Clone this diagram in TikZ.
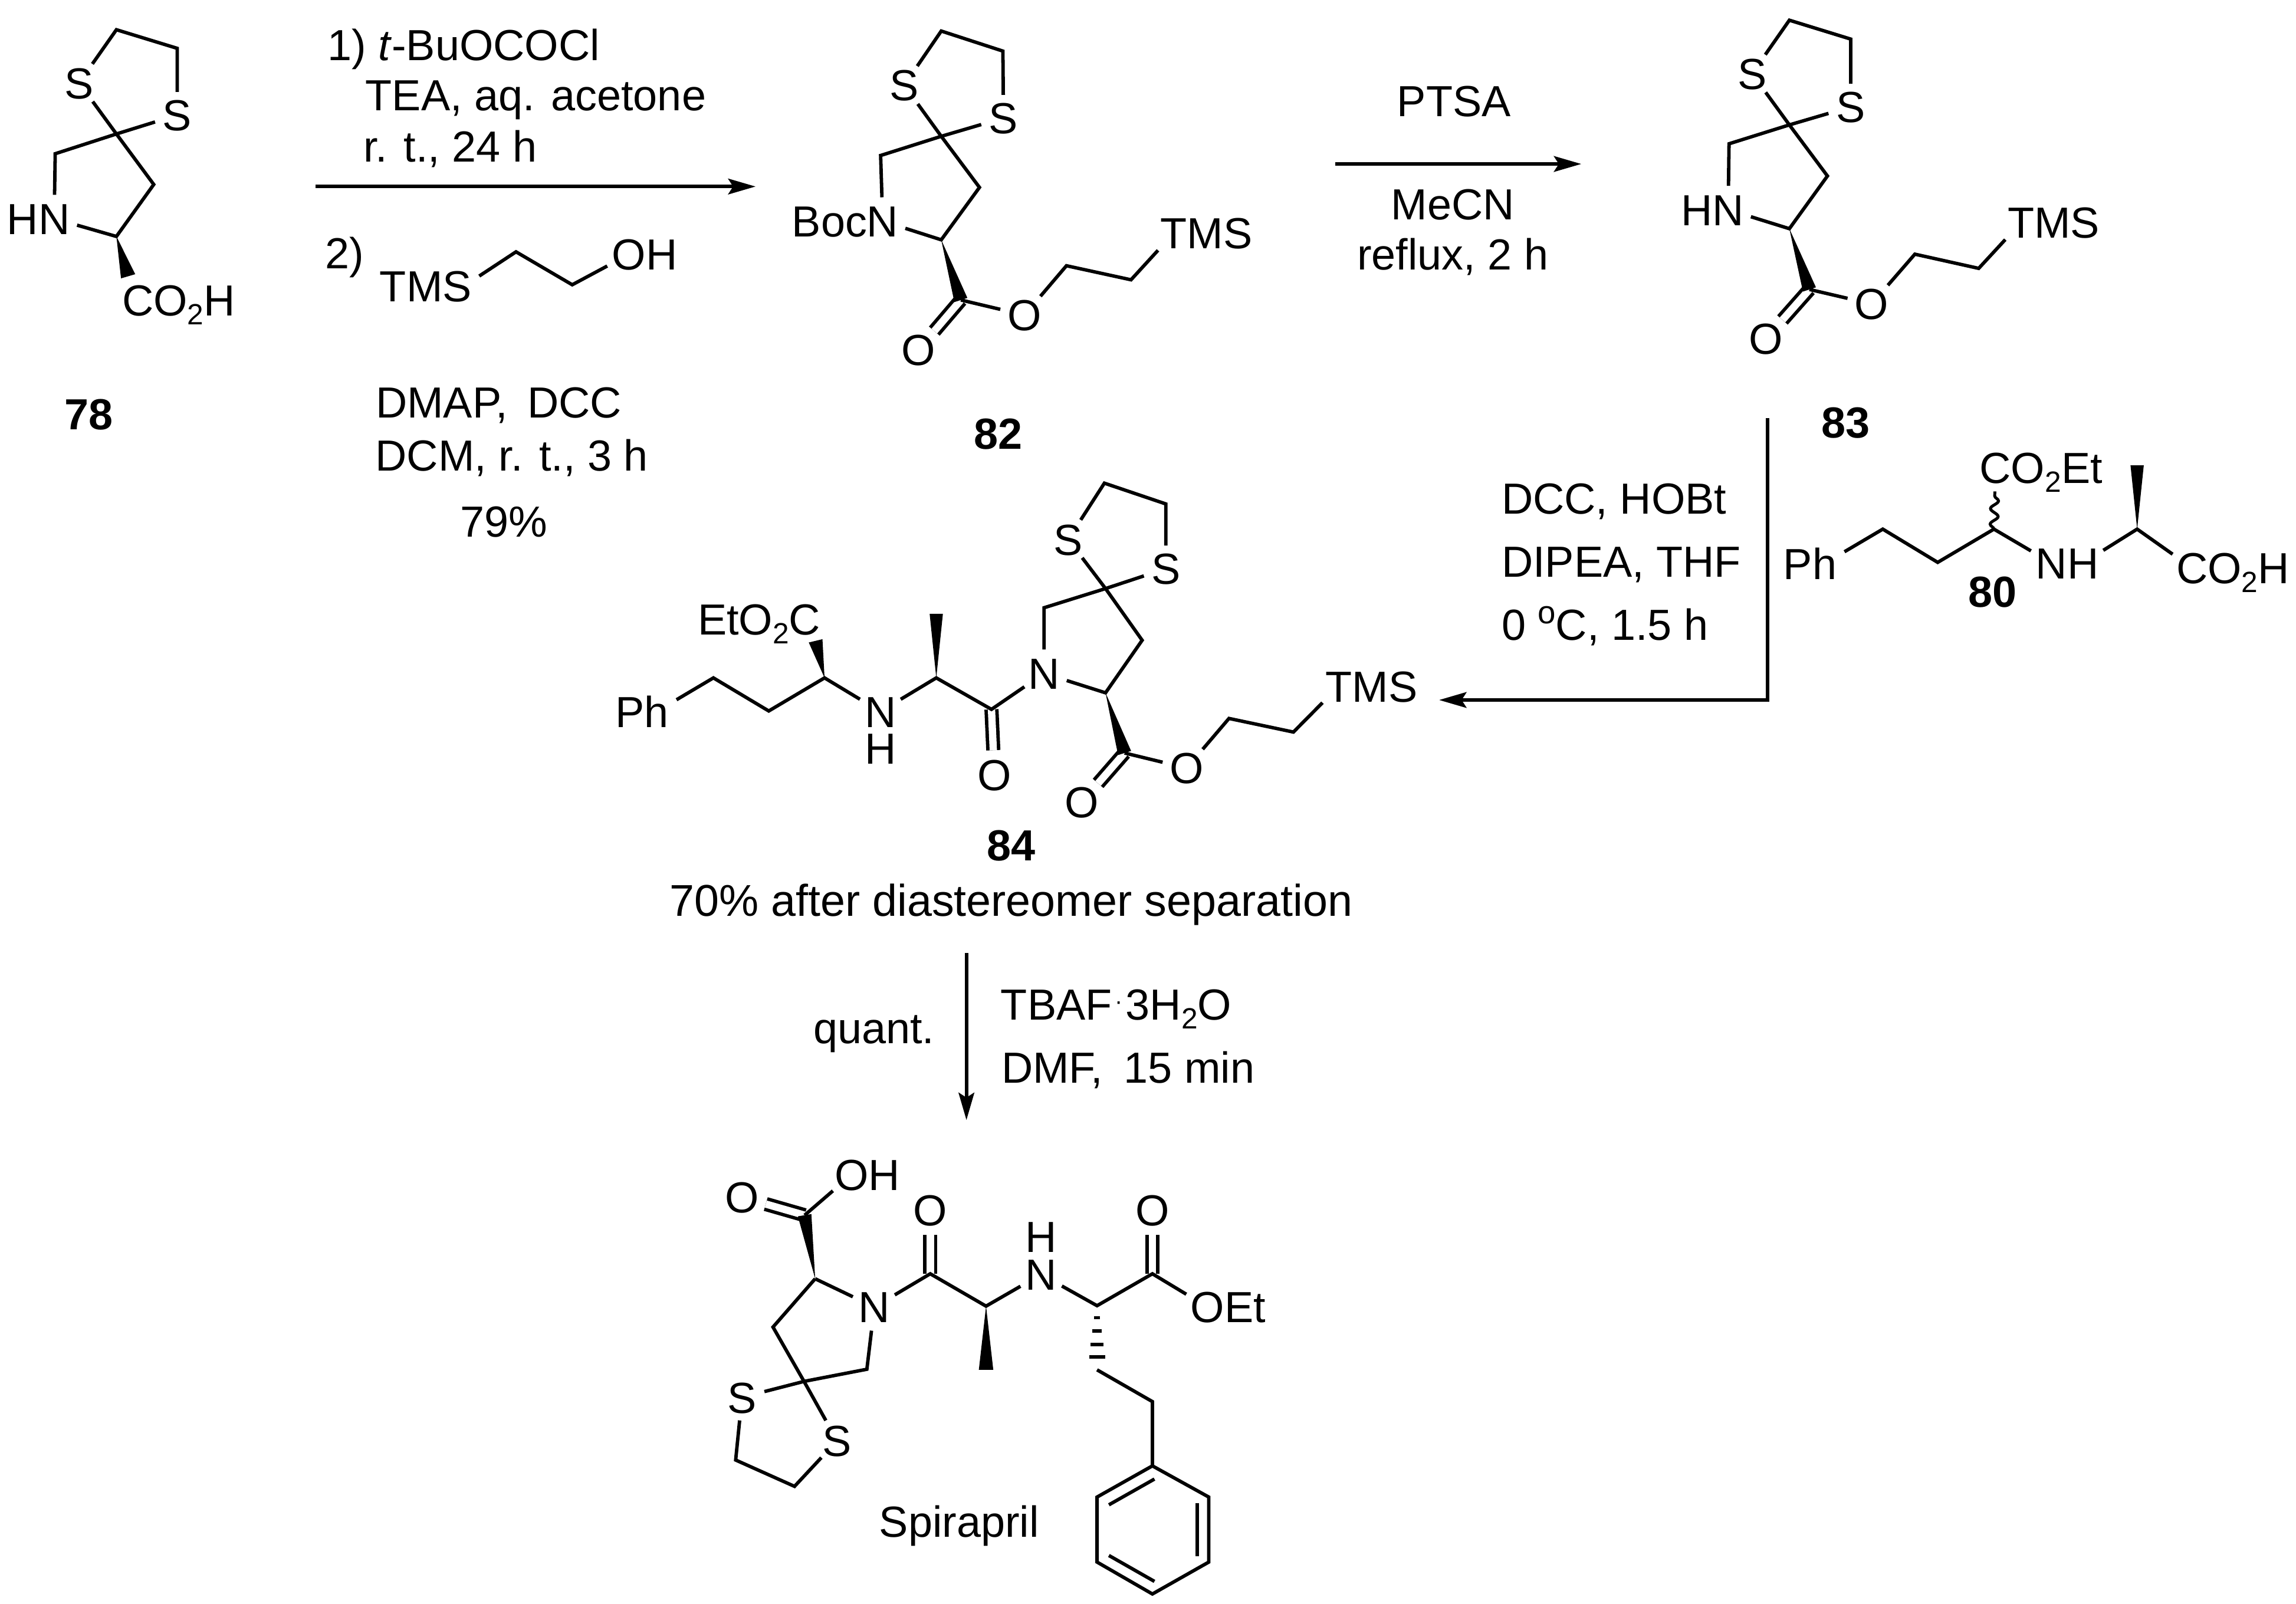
\documentclass[tikz,border=0pt]{standalone}
\usepackage{fontspec}
\setmainfont{Liberation Sans}
\usetikzlibrary{arrows.meta,calc,decorations.pathmorphing}

\newcommand{\subnum}[1]{\raisebox{-4.5pt}{\fontsize{15}{15}\selectfont #1}}
\newcommand{\wedgeb}[3]{\fill (#1) -- ($(#2)!#3!90:(#1)$) -- ($(#2)!#3!-90:(#1)$) -- cycle;}

\tikzset{every picture/.style={line width=1.75pt}}
\tikzset{
	bond/.style={line width=1.75pt},
	dbl/.style={line width=1.75pt,double,double distance=3.75pt},
	arr/.style={line width=1.75pt,-{Stealth[length=14pt,width=8pt,inset=2.5pt]}},
	atom/.style={circle,inner sep=0pt,minimum size=22pt,text height=16pt,text depth=0pt,font=\fontsize{22.3}{26}\selectfont},
	txt/.style={anchor=west,inner sep=0pt,text height=16pt,text depth=0pt,font=\fontsize{22.3}{26}\selectfont},
	num/.style={inner sep=0pt,text height=16pt,text depth=0pt,font=\fontsize{22.3}{26}\selectfont\bfseries}
}

\begin{document}
\begin{tikzpicture}[x=0.75pt,y=0.75pt,yscale=-1,xscale=1]
		\useasboundingbox (0,0) rectangle (1568,1095.2);

		%Shape: compound 78
		\coordinate (c781) at (79.5,20.3);
		\coordinate (c782) at (121,33);
		\coordinate (c783) at (79.5,91.5);
		\coordinate (c784) at (37.7,105);
		\coordinate (c785) at (105,126);
		\coordinate (c786) at (79.5,161.5);
		\coordinate (w78) at (87.5,188.7);
		\node [atom] (s781) at (54,56.6) {S};
		\node [atom] (s782) at (121,78.6) {S};
		\node [atom] (n78) at (37,149.3) {\llap{H}N};
		\node [atom] (co78) at (94.2,205) {C\rlap{O\subnum{2}H}};
		\draw [bond] (s781) -- (c781) -- (c782) -- (s782);
		\draw [bond] (s781) -- (c783) -- (c785) -- (c786) -- (n78) -- (c784) -- (c783) -- (s782);
		\wedgeb{c786}{w78}{3.8pt}
		\node [num] (num78) at (60.8,282.6) {78};

		%Straight Lines: first arrow and its text
		\coordinate (a1s) at (215.4,127.4);
		\coordinate (a1e) at (516,127.4);
		\draw [arr] (a1s) -- (a1e);
		\node [txt] (t11) at (222.4,30.5) {1) \textit{t}-BuOCOCl};
		\node [txt] (t12) at (248.5,64.7) {TEA, aq. acetone};
		\node [txt] (t13) at (247,100) {r. t., 24 h};
		\node [txt] (t14) at (221,172.8) {2)};
		\node [txt] (t15) at (255.4,274.5) {DMAP,\ \,DCC};
		\node [txt] (t16) at (255.2,311) {DCM, r. t., 3 h};
		\node [txt] (t17) at (313,356.2) {79\%};

		%Shape: reagent alcohol
		\coordinate (r1) at (352.4,172);
		\coordinate (r2) at (390.8,194.5);
		\node [txt,anchor=east] (tmsr) at (323.3,195.2) {TMS};
		\node [atom] (ohr) at (429.6,173.7) {O\rlap{H}};
		\draw [bond] (tmsr.east) ++(3pt,-5pt) coordinate (r0) -- (r1) -- (r2) -- (ohr);

		%Shape: compound 82
		\coordinate (c821) at (642.8,21.2);
		\coordinate (c822) at (684.9,34.9);
		\coordinate (c823) at (642.8,93.1);
		\coordinate (c824) at (601.4,106.2);
		\coordinate (c825) at (668.9,128);
		\coordinate (c826) at (642.8,163.8);
		\coordinate (c827) at (656.2,204.9);
		\coordinate (c828) at (728.3,181.5);
		\coordinate (c829) at (772.4,191.1);
		\node [atom] (s821) at (617.5,58.2) {S};
		\node [atom] (s822) at (685.3,80.6) {S};
		\node [atom] (n82) at (602.8,151) {\llap{Boc}N};
		\node [atom] (o821) at (627.1,239) {O};
		\node [atom] (o822) at (699.6,215.2) {O};
		\node [atom] (tms82) at (801.5,159.3) {T\rlap{MS}};
		\draw [bond] (s821) -- (c821) -- (c822) -- (s822);
		\draw [bond] (s821) -- (c823) -- (c825) -- (c826) -- (n82) -- (c824) -- (c823) -- (s822);
		\draw [dbl] (c827) -- (o821);
		\draw [bond] (c827) -- (o822) -- (c828) -- (c829) -- (tms82);
		\wedgeb{c826}{c827}{3.5pt}
		\node [num] (num82) at (681.6,296) {82};

		%Straight Lines: second arrow and its text
		\coordinate (a2s) at (911.7,112);
		\coordinate (a2e) at (1079.9,112);
		\draw [arr] (a2s) -- (a2e);
		\node [txt,anchor=center] (t21) at (992.9,68.8) {PTSA};
		\node [txt,anchor=center] (t22) at (992.2,139.3) {MeCN};
		\node [txt,anchor=center] (t23) at (992.2,173.6) {reflux, 2 h};

		%Shape: compound 83
		\coordinate (c831) at (1222,13.8);
		\coordinate (c832) at (1263.9,26.7);
		\coordinate (c833) at (1222,85.3);
		\coordinate (c834) at (1180.8,98.2);
		\coordinate (c835) at (1248,120.2);
		\coordinate (c836) at (1222,156.2);
		\coordinate (c837) at (1235.7,197.7);
		\coordinate (c838) at (1307.7,173.6);
		\coordinate (c839) at (1351.3,183.3);
		\node [atom] (s831) at (1196.5,50.3) {S};
		\node [atom] (s832) at (1263.9,73) {S};
		\node [atom] (n83) at (1180.2,143.2) {\llap{H}N};
		\node [atom] (o831) at (1206.1,231.2) {O};
		\node [atom] (o832) at (1278.2,207.6) {O};
		\node [atom] (tms83) at (1380.2,152) {T\rlap{MS}};
		\draw [bond] (s831) -- (c831) -- (c832) -- (s832);
		\draw [bond] (s831) -- (c833) -- (c835) -- (c836) -- (n83) -- (c834) -- (c833) -- (s832);
		\draw [dbl] (c837) -- (o831);
		\draw [bond] (c837) -- (o832) -- (c838) -- (c839) -- (tms83);
		\wedgeb{c836}{c837}{3.5pt}
		\node [num] (num83) at (1260.6,288.3) {83};

		%Straight Lines: third arrow and its text
		\coordinate (a3s) at (1207.2,285.5);
		\coordinate (a3m) at (1207.2,478.1);
		\coordinate (a3e) at (982.8,478.1);
		\draw [arr] (a3s) -- (a3m) -- (a3e);
		\node [txt] (t31) at (1024.3,340.2) {DCC, HOBt};
		\node [txt] (t32) at (1024.3,383.3) {DIPEA, THF};
		\node [txt] (t33) at (1024.3,426.5) {0 \raisebox{8.5pt}{\fontsize{16.5}{16.5}\selectfont o}C, 1.5 h};

		%Shape: compound 80
		\coordinate (c801) at (1285.8,361.4);
		\coordinate (c802) at (1323.3,384.1);
		\coordinate (c803) at (1361.7,361.4);
		\coordinate (c804) at (1459.5,361.4);
		\coordinate (w80) at (1459.5,317.8);
		\node [atom] (ph80) at (1246,384.9) {\llap{P}h};
		\node [atom] (co80) at (1362.7,319.4) {C\rlap{O\subnum{2}Et}};
		\node [atom] (n80) at (1401,384.5) {N};
		\node [atom] (h80) at (1422.6,384.5) {H};
		\node [atom] (co802) at (1497,387.9) {C\rlap{O\subnum{2}H}};
		\draw [bond] (ph80) -- (c801) -- (c802) -- (c803) -- (n80);
		\draw [bond,line width=1.5pt,decorate,decoration={snake,amplitude=2pt,segment length=8pt}] (c803) -- (co80);
		\draw [bond] (h80) -- (c804) -- (co802);
		\wedgeb{c804}{w80}{3.4pt}
		\node [num] (num80) at (1360.6,404.1) {80};

		%Shape: compound 84
		\coordinate (c841) at (487.2,463);
		\coordinate (c842) at (525,485.6);
		\coordinate (c843) at (563.1,463);
		\coordinate (w841) at (557,437.7);
		\coordinate (c844) at (639.4,463);
		\coordinate (w842) at (639.4,419.2);
		\coordinate (c845) at (677.1,484.5);
		\coordinate (c846) at (713,415.1);
		\coordinate (c847) at (755,402);
		\coordinate (c848) at (754.2,330);
		\coordinate (c849) at (796.2,344.2);
		\coordinate (c850) at (780,437.3);
		\coordinate (c851) at (755,473.2);
		\coordinate (c852) at (768,514.3);
		\coordinate (c853) at (839.3,490.7);
		\coordinate (c854) at (883.3,500);
		\node [atom] (ph84) at (448.4,486) {\llap{P}h};
		\node [txt,anchor=east] (co84) at (561.5,422.9) {EtO\subnum{2}C};
		\node [atom] (n841) at (601.2,486) {N};
		\node [txt,anchor=center] (h84) at (601.2,511.3) {H};
		\node [atom] (o841) at (679.1,529.3) {O};
		\node [atom] (n842) at (713,459.9) {N};
		\node [atom] (s841) at (729.5,368.4) {S};
		\node [atom] (s842) at (796.2,388.4) {S};
		\node [atom] (o842) at (738.8,547.8) {O};
		\node [atom] (o843) at (810.4,524.6) {O};
		\node [atom] (tms84) at (914.3,468.7) {T\rlap{MS}};
		\draw [dbl] (c845) -- (o841);
		\draw [dbl] (c852) -- (o842);
		\draw [bond] (ph84) -- (c841) -- (c842) -- (c843) -- (n841) -- (c844) -- (c845) -- (n842);
		\draw [bond] (s841) -- (c848) -- (c849) -- (s842);
		\draw [bond] (s841) -- (c847) -- (c850) -- (c851) -- (n842) -- (c846) -- (c847) -- (s842);
		\draw [bond] (c852) -- (o843) -- (c853) -- (c854) -- (tms84);
		\wedgeb{c843}{w841}{3.6pt}
		\wedgeb{c844}{w842}{3.4pt}
		\wedgeb{c851}{c852}{3.5pt}
		\node [num] (num84) at (690.6,577) {84};
		\node [txt,anchor=center,font=\fontsize{22.8}{26}\selectfont] (t41) at (690.5,615) {70\% after diastereomer separation};

		%Straight Lines: fourth arrow and its text
		\coordinate (a4s) at (660,651);
		\coordinate (a4e) at (660,765);
		\draw [arr] (a4s) -- (a4e);
		\node [txt] (t51) at (554.3,702) {quant.};
		\node [txt] (t52) at (682.3,686) {TBAF\hspace{1.5pt}\raisebox{5.5pt}{\fontsize{12}{12}\selectfont ·}\hspace{1.5pt}3H\subnum{2}O};
		\node [txt] (t53) at (682.8,729) {DMF,\ \hspace{4.5pt}15 min};

		%Shape: Spirapril
		\coordinate (c901) at (556.7,873.4);
		\coordinate (c902) at (549.5,830);
		\coordinate (c903) at (527.9,906.4);
		\coordinate (c904) at (549.1,943.5);
		\coordinate (c905) at (592,935.2);
		\coordinate (c906) at (502.4,997.2);
		\coordinate (c907) at (542.6,1015.2);
		\coordinate (c908) at (635.3,870);
		\coordinate (c909) at (673.4,892.1);
		\coordinate (w901) at (673.4,935.6);
		\coordinate (c910) at (749.2,891.8);
		\coordinate (c911) at (787,870);
		\coordinate (c912) at (749.2,935.6);
		\coordinate (c913) at (787,957.3);
		\coordinate (p1) at (787,1001.2);
		\coordinate (p2) at (825.5,1022.5);
		\coordinate (p3) at (825.5,1066.9);
		\coordinate (p4) at (787,1088.7);
		\coordinate (p5) at (749.2,1066.9);
		\coordinate (p6) at (749.2,1022.5);
		\coordinate (p1a) at (788.4,1010.2);
		\coordinate (p2a) at (757.3,1027.8);
		\coordinate (p3a) at (817.5,1026.8);
		\coordinate (p4a) at (817.5,1063);
		\coordinate (p5a) at (757.3,1062.4);
		\coordinate (p6a) at (788.4,1080.1);
		\node [atom] (o901) at (506.7,817.7) {O};
		\node [atom] (oh90) at (581.6,802.3) {O\rlap{H}};
		\node [atom] (n901) at (597.1,892.7) {N};
		\node [atom] (s901) at (506.7,954.4) {S};
		\node [atom] (s902) at (571.7,984) {S};
		\node [atom] (o902) at (635.3,826.4) {O};
		\node [atom] (n902) at (711,870.4) {N};
		\node [txt,anchor=center] (h90) at (711,844.7) {H};
		\node [atom] (o903) at (787,826.4) {O};
		\node [atom] (oet90) at (824.6,892.7) {O\rlap{Et}};
		\draw [dbl] (c902) -- (o901);
		\draw [dbl] (c908) -- (o902);
		\draw [dbl] (c911) -- (o903);
		\draw [bond] (c902) -- (oh90);
		\draw [bond] (c901) -- (n901) -- (c905) -- (c904) -- (c903) -- (c901);
		\draw [bond] (s901) -- (c904) -- (s902) -- (c907) -- (c906) -- (s901);
		\draw [bond] (n901) -- (c908) -- (c909) -- (n902) -- (c910) -- (c911) -- (oet90);
		\draw [bond] (c912) -- (c913) -- (p1);
		\draw [bond] (p1) -- (p2) -- (p3) -- (p4) -- (p5) -- (p6) -- cycle;
		\draw [bond] (p1a) -- (p2a);
		\draw [bond] (p3a) -- (p4a);
		\draw [bond] (p5a) -- (p6a);
		\wedgeb{c901}{c902}{3.5pt}
		\wedgeb{c909}{w901}{3.7pt}
		%Straight Lines: hashed bond
		\draw [bond] (747.2,900) -- (751.2,900);
		\draw [bond] (746,909) -- (752.4,909);
		\draw [bond] (744.9,918.2) -- (753.5,918.2);
		\draw [bond] (743.8,926.7) -- (754.6,926.7);
		\node [txt,anchor=center] (t61) at (655,1039.3) {Spirapril};

\end{tikzpicture}
\end{document}
